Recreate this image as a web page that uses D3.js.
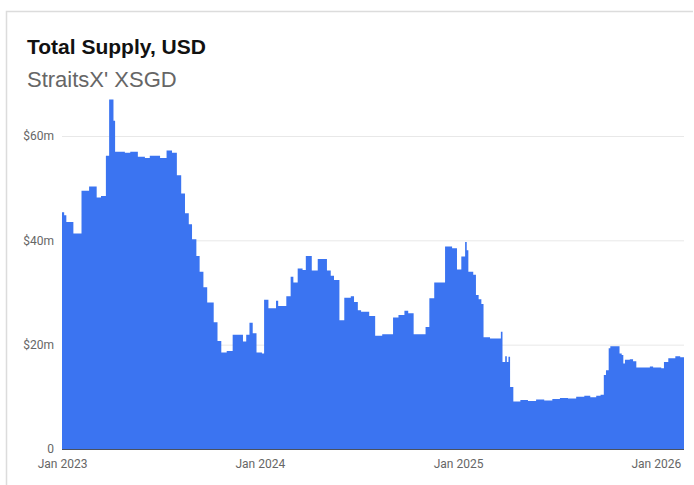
<!DOCTYPE html>
<html>
<head>
<meta charset="utf-8">
<script src="https://cdn.jsdelivr.net/npm/d3@7"></script>
<style>
  html, body { margin: 0; padding: 0; background: #fff; }
  svg { display: block; }
  .title { font-family: "Liberation Sans", Arial, sans-serif; font-weight: 700; font-size: 21px; fill: #111; }
  .subtitle { font-family: "Liberation Sans", Arial, sans-serif; font-size: 22px; fill: #666; }
  .tick text { font-family: Roboto, "Liberation Sans", sans-serif; font-size: 12px; fill: #666; }
</style>
</head>
<body>
<svg id="chart" width="694" height="485"></svg>
<script>
(function(){
    // step points: date the value starts, total supply in $m
    const dates = [
        "2023-01-01","2023-01-05","2023-01-09","2023-01-22","2023-02-06","2023-02-20","2023-03-06","2023-03-14",
        "2023-03-23","2023-03-29","2023-04-06","2023-04-09","2023-04-27","2023-05-07","2023-05-21","2023-06-03",
        "2023-06-12","2023-07-01","2023-07-13","2023-07-23","2023-08-01","2023-08-09","2023-08-16","2023-08-23",
        "2023-08-29","2023-09-06","2023-09-12","2023-09-19","2023-09-26","2023-10-08","2023-10-15","2023-10-22",
        "2023-11-01","2023-11-12","2023-12-01","2023-12-07","2023-12-13","2023-12-19","2023-12-26","2024-01-05",
        "2024-01-09","2024-01-17","2024-01-31","2024-02-04","2024-02-19","2024-02-27","2024-03-03","2024-03-11",
        "2024-03-20","2024-03-26","2024-04-06","2024-04-17","2024-05-04","2024-05-11","2024-05-17","2024-05-27",
        "2024-06-05","2024-06-17","2024-06-23","2024-06-30","2024-07-06","2024-07-21","2024-08-01","2024-08-14",
        "2024-09-03","2024-09-13","2024-09-24","2024-10-01","2024-10-11","2024-11-02","2024-11-09","2024-11-18",
        "2024-12-08","2024-12-21","2024-12-30","2025-01-07","2025-01-14","2025-01-17","2025-01-20","2025-01-29",
        "2025-02-03","2025-02-08","2025-02-13","2025-02-17","2025-03-01","2025-03-21","2025-03-24","2025-03-29",
        "2025-04-01","2025-04-04","2025-04-07","2025-04-13","2025-04-26","2025-05-10","2025-05-25","2025-06-09",
        "2025-06-24","2025-07-08","2025-07-23","2025-08-07","2025-08-22","2025-09-02","2025-09-13","2025-09-21",
        "2025-09-27","2025-10-01","2025-10-06","2025-10-09","2025-10-26","2025-10-30","2025-11-02","2025-11-05",
        "2025-11-14","2025-11-20","2025-11-26","2025-12-21","2025-12-27","2026-01-11","2026-01-16","2026-01-24",
        "2026-02-06","2026-02-15","2026-02-22"
    ];
    const supply = [
        45.4, 44.8, 43.5, 41.3, 49.5, 50.3, 48.2, 48.5,
        56.2, 67.0, 62.9, 57.0, 56.8, 57.0, 56.0, 55.8,
        56.2, 55.8, 57.2, 56.8, 52.5, 49.0, 45.2, 43.1,
        40.2, 37.0, 34.0, 31.0, 28.1, 24.3, 20.7, 18.5,
        18.8, 21.9, 20.6, 21.9, 24.2, 22.2, 18.5, 18.3,
        28.6, 27.0, 28.4, 27.4, 29.3, 33.0, 31.9, 34.6,
        34.3, 37.0, 34.2, 36.4, 34.2, 33.2, 32.4, 24.7,
        29.0, 29.3, 28.2, 26.6, 26.3, 25.5, 21.7, 22.0,
        25.2, 25.7, 26.5, 26.0, 22.0, 23.4, 28.9, 31.9,
        38.8, 38.5, 34.4, 36.9, 39.7, 38.1, 34.0, 33.4,
        29.5, 28.7, 27.8, 21.4, 21.2, 22.5, 16.7, 17.8,
        16.7, 17.7, 11.9, 9.1, 9.4, 9.2, 9.5, 9.3,
        9.6, 9.8, 9.7, 10.0, 10.2, 9.9, 10.2, 10.4,
        14.2, 15.1, 19.3, 19.7, 18.3, 18.0, 16.4, 17.1,
        17.2, 16.8, 15.6, 15.8, 15.6, 15.5, 16.7, 17.4,
        17.8, 17.6, 17.6
    ];
    const yTicks = [0, 20, 40, 60];
    const yTickLabels = ["0", "$20m", "$40m", "$60m"];
    const xTicks = ["2023-01-01", "2024-01-01", "2025-01-01", "2026-01-01"];

    const parse = d3.utcParse("%Y-%m-%d");
    const data = dates.map((d, i) => ({ date: parse(d), v: supply[i] }));

    const svg = d3.select("#chart");

    // card outline
    svg.append("path")
        .attr("d", "M6.5,485 V11.5 H693")
        .attr("fill", "none").attr("stroke", "#dcdcdc").attr("stroke-width", 1.5);

    svg.append("text").attr("class","title").attr("x",27).attr("y",54).text("Total Supply, USD");
    svg.append("text").attr("class","subtitle").attr("x",27).attr("y",87).text("StraitsX' XSGD");

    const x = d3.scaleUtc().domain([parse("2023-01-01"), parse("2026-02-22")]).range([62, 684]);
    const y = d3.scaleLinear().domain([0, 60]).range([449, 136]);

    // grid + y labels
    const yAxis = svg.append("g").attr("transform","translate(62,0)")
        .call(d3.axisLeft(y).tickValues(yTicks).tickSize(-(684-62)).tickPadding(8)
            .tickFormat((d, i) => yTickLabels[i]));
    yAxis.select(".domain").remove();
    yAxis.selectAll(".tick line").attr("stroke","#e8e8e8");

    const area = d3.area()
        .curve(d3.curveStepAfter)
        .x(d => x(d.date))
        .y0(y(0))
        .y1(d => y(d.v));

    svg.append("path").datum(data)
        .attr("d", area)
        .attr("fill", "#3b74f1");

    // baseline
    svg.append("line")
        .attr("x1", 62).attr("x2", 684).attr("y1", y(0) + 0.5).attr("y2", y(0) + 0.5)
        .attr("stroke", "#4a5160").attr("stroke-width", 1);

    const xAxis = svg.append("g").attr("transform", `translate(0,${y(0)})`)
        .call(d3.axisBottom(x).tickValues(xTicks.map(parse)).tickSize(0).tickPadding(10)
            .tickFormat(d3.utcFormat("%b %Y")));
    xAxis.select(".domain").remove();
})();
</script>
</body>
</html>
